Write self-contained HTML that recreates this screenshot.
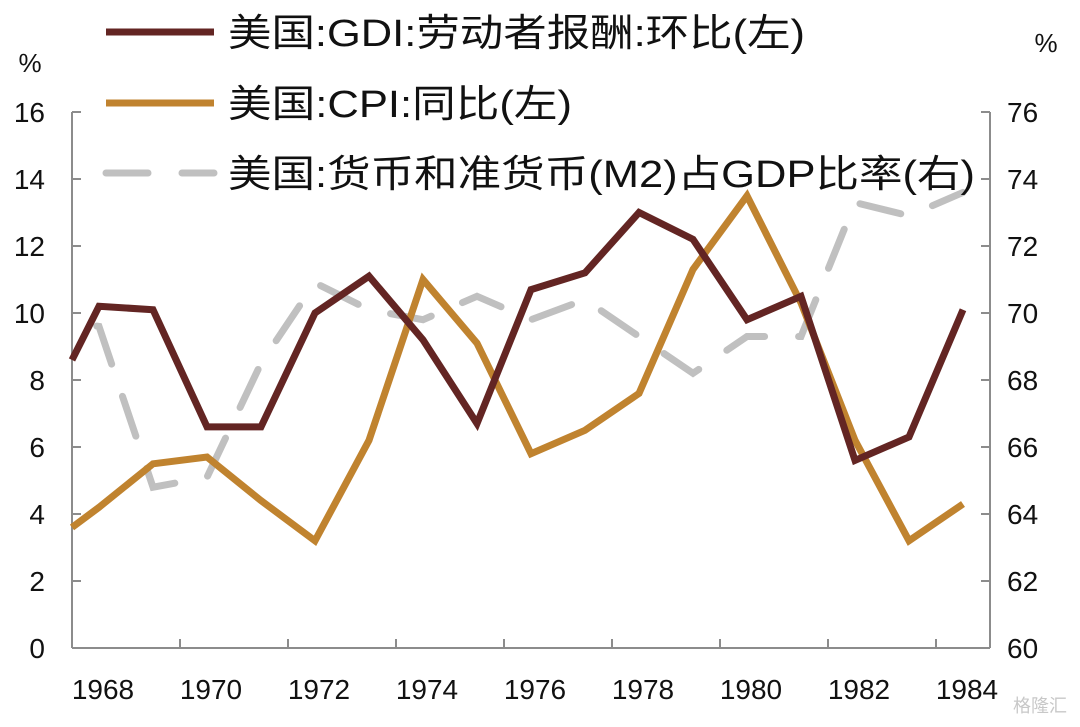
<!DOCTYPE html>
<html><head><meta charset="utf-8"><style>
body{margin:0;background:#fff;}
svg text{font-family:"Liberation Sans","Noto Sans CJK SC",sans-serif;fill:#111;}
</style></head><body>
<svg id="chart" width="1080" height="722" viewBox="0 0 1080 722" xmlns="http://www.w3.org/2000/svg">
<g id="axes"></g>
<g id="series"></g>
<g id="legend"></g>
<text x="30" y="72" font-size="26" text-anchor="middle">%</text>
<text x="1046" y="52" font-size="26" text-anchor="middle">%</text>
<text x="1040" y="712" font-size="18" style="fill:#c8c8c8" text-anchor="middle">格隆汇</text>
</svg>
<script>
const xLabels = ["1968","1970","1972","1974","1976","1978","1980","1982","1984"];
const leftTicks = [0,2,4,6,8,10,12,14,16];
const rightTicks = [60,62,64,66,68,70,72,74,76];
const tValues = [0,0.5,1.5,2.5,3.5,4.5,5.5,6.5,7.5,8.5,9.5,10.5,11.5,12.5,13.5,14.5,15.5,16.5];
const gdi = [8.6,10.2,10.1,6.6,6.6,10.0,11.1,9.2,6.7,10.7,11.2,13.0,12.2,9.8,10.5,5.6,6.3,10.1];
const cpi = [3.6,4.2,5.5,5.7,4.4,3.2,6.2,11.0,9.1,5.8,6.5,7.6,11.3,13.5,10.3,6.2,3.2,4.3];
const m2 = [69.7,69.6,64.8,65.1,68.5,70.9,70.1,69.8,70.5,69.8,70.4,69.3,68.2,69.3,69.3,73.3,72.9,73.6];

const NS="http://www.w3.org/2000/svg";
const X0=72, X1=990, Y0=648, Y1=112;
const xs = t => X0 + t*54;
const yL = v => Y0 - (v-0)/16*(Y0-Y1);
const yR = v => Y0 - (v-60)/16*(Y0-Y1);
function mk(tag, attrs, parent){const e=document.createElementNS(NS,tag);for(const k in attrs)e.setAttribute(k,attrs[k]);parent.appendChild(e);return e;}
const axes=document.getElementById('axes'), series=document.getElementById('series'), legend=document.getElementById('legend');
const ac="#8c8c8c";
let e;
e=mk('line',{x1:X0,y1:Y1,x2:X0,y2:Y0,stroke:ac,'stroke-width':2},axes);


e=mk('line',{x1:X1,y1:Y1,x2:X1,y2:Y0,stroke:ac,'stroke-width':2},axes);


e=mk('line',{x1:X0,y1:Y0,x2:X1,y2:Y0,stroke:ac,'stroke-width':2},axes);


leftTicks.forEach(v=>{
  const y=yL(v);
  e=mk('line',{x1:X0,y1:y,x2:X0+9,y2:y,stroke:ac,'stroke-width':2},axes);
  
  
  e=mk('text',{x:45,y:y+10,'font-size':28,'text-anchor':'end'},axes);e.textContent=v;
  
  
});
rightTicks.forEach(v=>{
  const y=yR(v);
  e=mk('line',{x1:X1-9,y1:y,x2:X1,y2:y,stroke:ac,'stroke-width':2},axes);
  
  
  e=mk('text',{x:1007,y:y+10,'font-size':28},axes);e.textContent=v;
  
  
});
xLabels.forEach((l,i)=>{
  const x=xs(i*2);
  if(i>0){e=mk('line',{x1:x,y1:Y0-9,x2:x,y2:Y0,stroke:ac,'stroke-width':2},axes);
  
  }
  e=mk('text',{x:x+31,y:699,'font-size':28,'text-anchor':'middle'},axes);e.textContent=l;
  
  
});
function line(vals,scale,color,dash,name){
  const d=vals.map((v,i)=>(i?'L':'M')+xs(tValues[i]).toFixed(1)+' '+scale(v).toFixed(1)).join(' ');
  const p=mk('path',{d:d,fill:'none',stroke:color,'stroke-width':7,'stroke-linejoin':'miter'},series);
  if(dash){p.setAttribute('stroke-dasharray',dash);p.setAttribute('stroke-dashoffset','51');p.setAttribute('stroke-linecap','round');}
  
  
}
line(m2,yR,'#c0c0c0','42 34','m2-gdp-line');
line(cpi,yL,'#c0832f',null,'cpi-line');
line(gdi,yL,'#632523',null,'gdi-line');
const leg=[["美国:GDI:劳动者报酬:环比(左)",'#632523',null,32,577],["美国:CPI:同比(左)",'#c0832f',null,103,344],["美国:货币和准货币(M2)占GDP比率(右)",'#c0c0c0','42 34',173,747]];
leg.forEach(([t,c,dash,y,w])=>{
  e=mk('line',{x1:106,y1:y,x2:214,y2:y,stroke:c,'stroke-width':7},legend);
  if(dash){e.setAttribute('stroke-dasharray',dash);e.setAttribute('stroke-linecap','round');}
  
  
  e=mk('text',{x:228,y:y+14,'font-size':38,textLength:w,lengthAdjust:'spacingAndGlyphs'},legend);e.textContent=t;
  
  
});
</script>
</body></html>
